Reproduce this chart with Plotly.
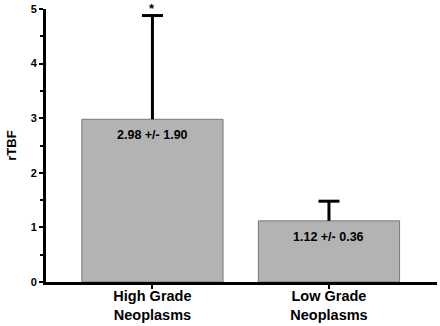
import plotly.graph_objects as go

categories = ["High Grade<br>Neoplasms", "Low Grade<br>Neoplasms"]
means = [2.98, 1.12]
sds = [1.90, 0.36]
value_labels = ["2.98 +/- 1.90", "1.12 +/- 0.36"]
significance = ["*", ""]
y_ticks = [0, 1, 2, 3, 4, 5]

FONT = "Liberation Sans, Arial, sans-serif"

fig = go.Figure()
fig.add_trace(go.Bar(
    x=categories,
    y=means,
    width=0.8,
    marker=dict(color="#b3b3b3", line=dict(color="#7a7a7a", width=1)),
    showlegend=False,
    hoverinfo="skip",
))

# upper-only error bars: stem + cap
for cat, m, s in zip(categories, means, sds):
    fig.add_trace(go.Scatter(
        x=[cat, cat], y=[m, m + s], mode="lines",
        line=dict(color="black", width=3),
        showlegend=False, hoverinfo="skip", cliponaxis=False,
    ))
fig.add_trace(go.Scatter(
    x=categories, y=[m + s for m, s in zip(means, sds)], mode="markers",
    marker=dict(symbol="line-ew", size=15, line=dict(color="black", width=3)),
    showlegend=False, hoverinfo="skip", cliponaxis=False,
))

for cat, m, s, lab, sig in zip(categories, means, sds, value_labels, significance):
    fig.add_annotation(x=cat, y=m, text=lab, showarrow=False, yanchor="top", yshift=-7,
                       font=dict(family=FONT, size=12.5, color="black", weight="bold"))
    if sig:
        fig.add_annotation(x=cat, y=m + s, text=sig, showarrow=False, yanchor="bottom", yshift=-2,
                           font=dict(family=FONT, size=13, color="black", weight="bold"))

fig.update_layout(
    width=440, height=326,
    margin=dict(l=46, r=3, t=9, b=44),
    plot_bgcolor="white", paper_bgcolor="white",
    font=dict(family=FONT, color="black"),
)
fig.update_xaxes(
    range=[-0.603, 1.612],
    showline=True, linecolor="black", linewidth=3,
    ticks="outside", ticklen=4, tickwidth=2, tickcolor="black",
    ticklabelstandoff=-5,
    tickfont=dict(family=FONT, size=14.5, color="black", weight="bold"),
    showgrid=False, zeroline=False,
)
fig.update_yaxes(
    range=[0, 5],
    tickvals=y_ticks,
    showline=True, linecolor="black", linewidth=3,
    ticks="outside", ticklen=4, tickwidth=2, tickcolor="black",
    minor=dict(dtick=0.5, ticks="outside", ticklen=3, tickwidth=1.5, tickcolor="black", showgrid=False),
    tickfont=dict(family=FONT, size=11, color="black", weight="bold"),
    title=dict(text="rTBF", font=dict(family=FONT, size=13, color="black", weight="bold"), standoff=12),
    showgrid=False, zeroline=False,
)

fig.write_html("out.html", config={"displayModeBar": False},
               post_script="document.body.style.margin='0';document.body.style.overflow='hidden';")
